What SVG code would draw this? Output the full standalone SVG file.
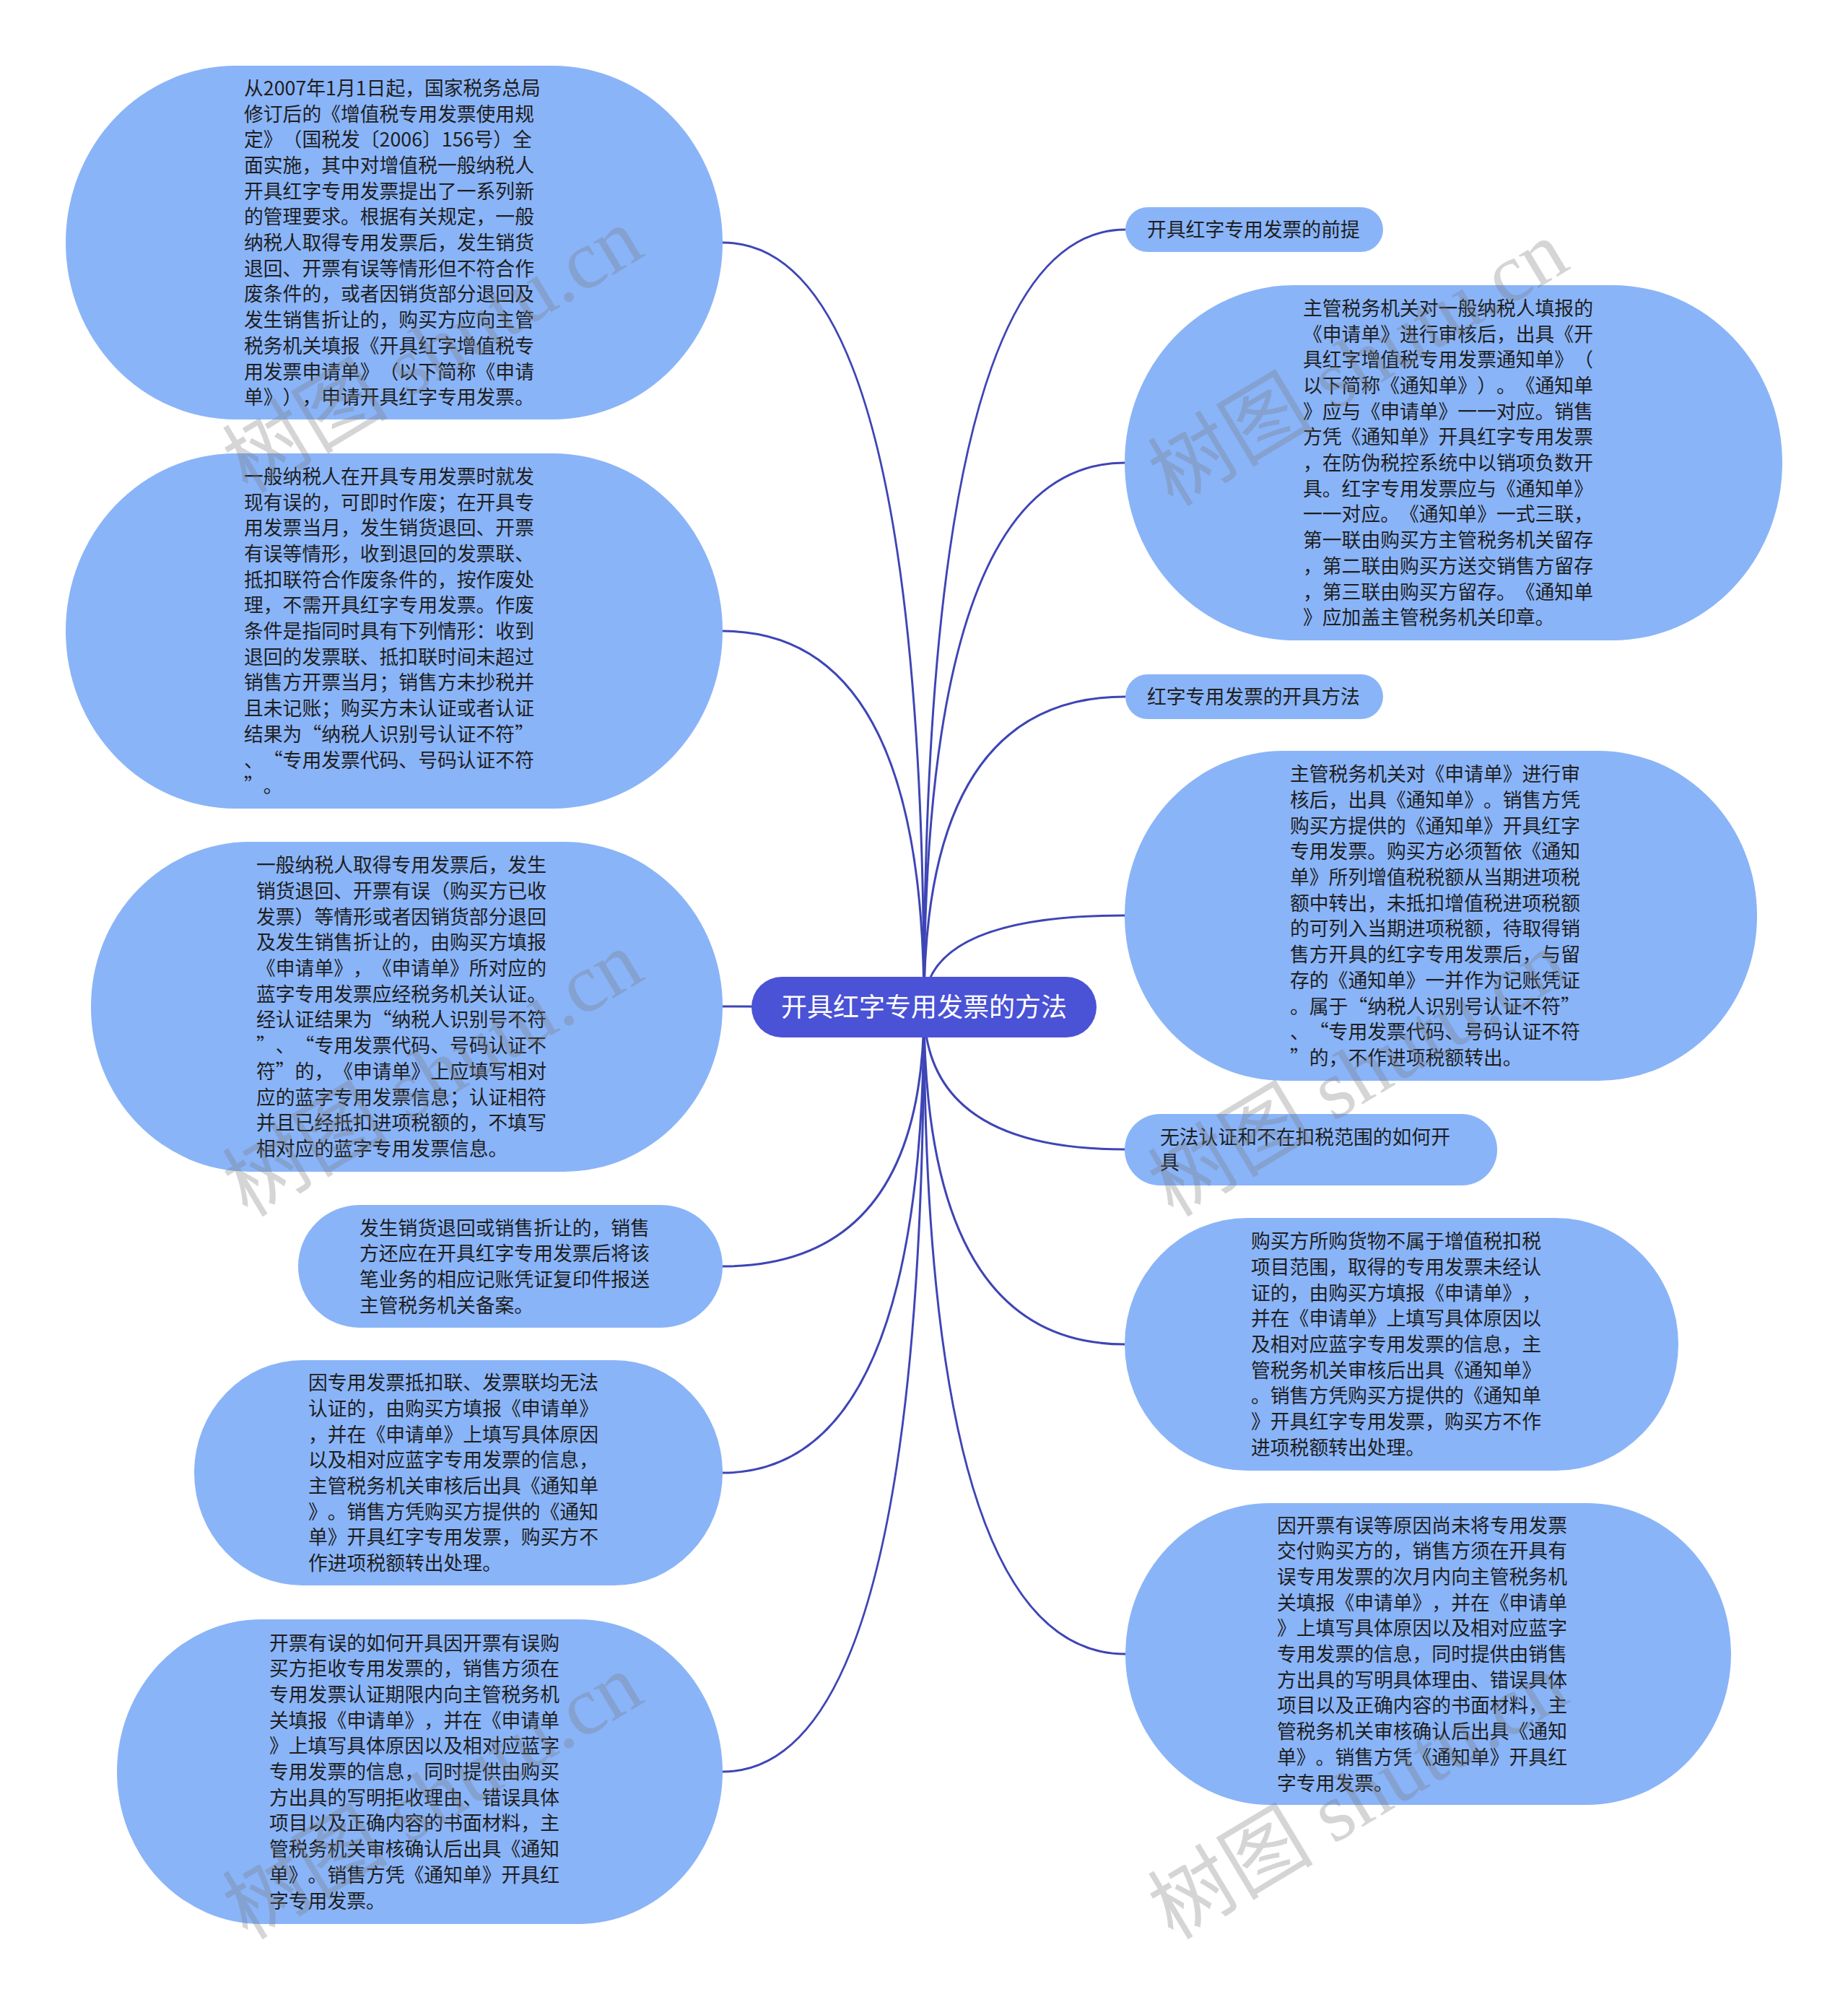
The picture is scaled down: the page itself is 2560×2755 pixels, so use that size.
<svg xmlns="http://www.w3.org/2000/svg" width="2560" height="2755" viewBox="0 0 2560 2755">
<style>
.bg{fill:#ffffff}
.node rect{fill:#8AB4F8}
.t{font-family:"Noto Sans CJK SC","Noto Sans",sans-serif;font-size:26.8px;fill:#1e1e1e;text-spacing-trim:space-all;font-kerning:none}
.root rect{fill:#4A52D6}
.rt{font-family:"Noto Sans CJK SC","Noto Sans",sans-serif;font-size:36px;fill:#ffffff;text-anchor:middle;text-spacing-trim:space-all}
.conn path{fill:none;stroke:#3E45B5;stroke-width:3}
.wm{font-family:"Liberation Serif","Noto Sans CJK SC",serif;font-size:115px;fill:#777777;opacity:0.3}
</style>
<rect class="bg" x="0" y="0" width="2560" height="2755"/>
<g id="connectors" class="conn">
<path d="M1280 1395 Q1280 336 1001 336"/>
<path d="M1280 1395 Q1280 874 1001 874"/>
<path d="M1280 1395 L1001 1394"/>
<path d="M1280 1395 Q1280 1754 1001 1754"/>
<path d="M1280 1395 Q1280 2040 1001 2040"/>
<path d="M1280 1395 Q1280 2454 1001 2454"/>
<path d="M1280 1395 Q1280 318 1559 318"/>
<path d="M1280 1395 Q1280 641 1558 641"/>
<path d="M1280 1395 Q1280 965 1559 965"/>
<path d="M1280 1395 Q1280 1268 1558 1268"/>
<path d="M1280 1395 Q1280 1592 1558 1592"/>
<path d="M1280 1395 Q1280 1862 1558 1862"/>
<path d="M1280 1395 Q1280 2291 1559 2291"/>
</g>
<g id="root" class="root">
<rect x="1041" y="1353" width="478" height="84" rx="42" ry="42"/>
<text class="rt" x="1280" y="1408">开具红字专用发票的方法</text>
</g>
<g id="L1" class="node">
<rect x="91" y="91" width="910" height="490" rx="235" ry="245"/>
<text class="t"><tspan x="338" y="131.8">从2007年1月1日起，国家税务总局</tspan><tspan x="338" dy="35.7">修订后的《增值税专用发票使用规</tspan><tspan x="338" dy="35.7">定》（国税发〔2006〕156号）全</tspan><tspan x="338" dy="35.7">面实施，其中对增值税一般纳税人</tspan><tspan x="338" dy="35.7">开具红字专用发票提出了一系列新</tspan><tspan x="338" dy="35.7">的管理要求。根据有关规定，一般</tspan><tspan x="338" dy="35.7">纳税人取得专用发票后，发生销货</tspan><tspan x="338" dy="35.7">退回、开票有误等情形但不符合作</tspan><tspan x="338" dy="35.7">废条件的，或者因销货部分退回及</tspan><tspan x="338" dy="35.7">发生销售折让的，购买方应向主管</tspan><tspan x="338" dy="35.7">税务机关填报《开具红字增值税专</tspan><tspan x="338" dy="35.7">用发票申请单》（以下简称《申请</tspan><tspan x="338" dy="35.7">单》），申请开具红字专用发票。</tspan></text>
</g>
<g id="L2" class="node">
<rect x="91" y="628" width="910" height="492" rx="235" ry="246"/>
<text class="t"><tspan x="338" y="669.8">一般纳税人在开具专用发票时就发</tspan><tspan x="338" dy="35.7">现有误的，可即时作废；在开具专</tspan><tspan x="338" dy="35.7">用发票当月，发生销货退回、开票</tspan><tspan x="338" dy="35.7">有误等情形，收到退回的发票联、</tspan><tspan x="338" dy="35.7">抵扣联符合作废条件的，按作废处</tspan><tspan x="338" dy="35.7">理，不需开具红字专用发票。作废</tspan><tspan x="338" dy="35.7">条件是指同时具有下列情形：收到</tspan><tspan x="338" dy="35.7">退回的发票联、抵扣联时间未超过</tspan><tspan x="338" dy="35.7">销售方开票当月；销售方未抄税并</tspan><tspan x="338" dy="35.7">且未记账；购买方未认证或者认证</tspan><tspan x="338" dy="35.7">结果为“纳税人识别号认证不符”</tspan><tspan x="338" dy="35.7">、“专用发票代码、号码认证不符</tspan><tspan x="338" dy="35.7">”。</tspan></text>
</g>
<g id="L3" class="node">
<rect x="126" y="1166" width="875" height="457" rx="220" ry="228"/>
<text class="t"><tspan x="355" y="1208.2">一般纳税人取得专用发票后，发生</tspan><tspan x="355" dy="35.7">销货退回、开票有误（购买方已收</tspan><tspan x="355" dy="35.7">发票）等情形或者因销货部分退回</tspan><tspan x="355" dy="35.7">及发生销售折让的，由购买方填报</tspan><tspan x="355" dy="35.7">《申请单》，《申请单》所对应的</tspan><tspan x="355" dy="35.7">蓝字专用发票应经税务机关认证。</tspan><tspan x="355" dy="35.7">经认证结果为“纳税人识别号不符</tspan><tspan x="355" dy="35.7">”、“专用发票代码、号码认证不</tspan><tspan x="355" dy="35.7">符”的，《申请单》上应填写相对</tspan><tspan x="355" dy="35.7">应的蓝字专用发票信息；认证相符</tspan><tspan x="355" dy="35.7">并且已经抵扣进项税额的，不填写</tspan><tspan x="355" dy="35.7">相对应的蓝字专用发票信息。</tspan></text>
</g>
<g id="L4" class="node">
<rect x="413" y="1669" width="588" height="170" rx="85" ry="85"/>
<text class="t"><tspan x="498" y="1710.5">发生销货退回或销售折让的，销售</tspan><tspan x="498" dy="35.7">方还应在开具红字专用发票后将该</tspan><tspan x="498" dy="35.7">笔业务的相应记账凭证复印件报送</tspan><tspan x="498" dy="35.7">主管税务机关备案。</tspan></text>
</g>
<g id="L5" class="node">
<rect x="269" y="1884" width="732" height="312" rx="150" ry="156"/>
<text class="t"><tspan x="427" y="1925.1">因专用发票抵扣联、发票联均无法</tspan><tspan x="427" dy="35.7">认证的，由购买方填报《申请单》</tspan><tspan x="427" dy="35.7">，并在《申请单》上填写具体原因</tspan><tspan x="427" dy="35.7">以及相对应蓝字专用发票的信息，</tspan><tspan x="427" dy="35.7">主管税务机关审核后出具《通知单</tspan><tspan x="427" dy="35.7">》。销售方凭购买方提供的《通知</tspan><tspan x="427" dy="35.7">单》开具红字专用发票，购买方不</tspan><tspan x="427" dy="35.7">作进项税额转出处理。</tspan></text>
</g>
<g id="L6" class="node">
<rect x="162" y="2243" width="839" height="422" rx="200" ry="211"/>
<text class="t"><tspan x="373" y="2285.5">开票有误的如何开具因开票有误购</tspan><tspan x="373" dy="35.7">买方拒收专用发票的，销售方须在</tspan><tspan x="373" dy="35.7">专用发票认证期限内向主管税务机</tspan><tspan x="373" dy="35.7">关填报《申请单》，并在《申请单</tspan><tspan x="373" dy="35.7">》上填写具体原因以及相对应蓝字</tspan><tspan x="373" dy="35.7">专用发票的信息，同时提供由购买</tspan><tspan x="373" dy="35.7">方出具的写明拒收理由、错误具体</tspan><tspan x="373" dy="35.7">项目以及正确内容的书面材料，主</tspan><tspan x="373" dy="35.7">管税务机关审核确认后出具《通知</tspan><tspan x="373" dy="35.7">单》。销售方凭《通知单》开具红</tspan><tspan x="373" dy="35.7">字专用发票。</tspan></text>
</g>
<g id="R1" class="node">
<rect x="1559" y="287" width="357" height="62" rx="31" ry="31"/>
<text class="t" x="1589" y="328">开具红字专用发票的前提</text>
</g>
<g id="R2" class="node">
<rect x="1558" y="395" width="911" height="492" rx="235" ry="246"/>
<text class="t"><tspan x="1805" y="436.8">主管税务机关对一般纳税人填报的</tspan><tspan x="1805" dy="35.7">《申请单》进行审核后，出具《开</tspan><tspan x="1805" dy="35.7">具红字增值税专用发票通知单》（</tspan><tspan x="1805" dy="35.7">以下简称《通知单》）。《通知单</tspan><tspan x="1805" dy="35.7">》应与《申请单》一一对应。销售</tspan><tspan x="1805" dy="35.7">方凭《通知单》开具红字专用发票</tspan><tspan x="1805" dy="35.7">，在防伪税控系统中以销项负数开</tspan><tspan x="1805" dy="35.7">具。红字专用发票应与《通知单》</tspan><tspan x="1805" dy="35.7">一一对应。《通知单》一式三联，</tspan><tspan x="1805" dy="35.7">第一联由购买方主管税务机关留存</tspan><tspan x="1805" dy="35.7">，第二联由购买方送交销售方留存</tspan><tspan x="1805" dy="35.7">，第三联由购买方留存。《通知单</tspan><tspan x="1805" dy="35.7">》应加盖主管税务机关印章。</tspan></text>
</g>
<g id="R3" class="node">
<rect x="1559" y="934" width="357" height="62" rx="31" ry="31"/>
<text class="t" x="1589" y="975">红字专用发票的开具方法</text>
</g>
<g id="R4" class="node">
<rect x="1558" y="1040" width="876" height="457" rx="220" ry="228"/>
<text class="t"><tspan x="1787" y="1082.2">主管税务机关对《申请单》进行审</tspan><tspan x="1787" dy="35.7">核后，出具《通知单》。销售方凭</tspan><tspan x="1787" dy="35.7">购买方提供的《通知单》开具红字</tspan><tspan x="1787" dy="35.7">专用发票。购买方必须暂依《通知</tspan><tspan x="1787" dy="35.7">单》所列增值税税额从当期进项税</tspan><tspan x="1787" dy="35.7">额中转出，未抵扣增值税进项税额</tspan><tspan x="1787" dy="35.7">的可列入当期进项税额，待取得销</tspan><tspan x="1787" dy="35.7">售方开具的红字专用发票后，与留</tspan><tspan x="1787" dy="35.7">存的《通知单》一并作为记账凭证</tspan><tspan x="1787" dy="35.7">。属于“纳税人识别号认证不符”</tspan><tspan x="1787" dy="35.7">、“专用发票代码、号码认证不符</tspan><tspan x="1787" dy="35.7">”的，不作进项税额转出。</tspan></text>
</g>
<g id="R5" class="node">
<rect x="1558" y="1543" width="516" height="99" rx="49" ry="49"/>
<text class="t"><tspan x="1607" y="1584.7">无法认证和不在扣税范围的如何开</tspan><tspan x="1607" dy="35.7">具</tspan></text>
</g>
<g id="R6" class="node">
<rect x="1558" y="1687" width="767" height="350" rx="170" ry="175"/>
<text class="t"><tspan x="1733" y="1729.2">购买方所购货物不属于增值税扣税</tspan><tspan x="1733" dy="35.7">项目范围，取得的专用发票未经认</tspan><tspan x="1733" dy="35.7">证的，由购买方填报《申请单》，</tspan><tspan x="1733" dy="35.7">并在《申请单》上填写具体原因以</tspan><tspan x="1733" dy="35.7">及相对应蓝字专用发票的信息，主</tspan><tspan x="1733" dy="35.7">管税务机关审核后出具《通知单》</tspan><tspan x="1733" dy="35.7">。销售方凭购买方提供的《通知单</tspan><tspan x="1733" dy="35.7">》开具红字专用发票，购买方不作</tspan><tspan x="1733" dy="35.7">进项税额转出处理。</tspan></text>
</g>
<g id="R7" class="node">
<rect x="1559" y="2082" width="839" height="418" rx="200" ry="209"/>
<text class="t"><tspan x="1769" y="2122.5">因开票有误等原因尚未将专用发票</tspan><tspan x="1769" dy="35.7">交付购买方的，销售方须在开具有</tspan><tspan x="1769" dy="35.7">误专用发票的次月内向主管税务机</tspan><tspan x="1769" dy="35.7">关填报《申请单》，并在《申请单</tspan><tspan x="1769" dy="35.7">》上填写具体原因以及相对应蓝字</tspan><tspan x="1769" dy="35.7">专用发票的信息，同时提供由销售</tspan><tspan x="1769" dy="35.7">方出具的写明具体理由、错误具体</tspan><tspan x="1769" dy="35.7">项目以及正确内容的书面材料，主</tspan><tspan x="1769" dy="35.7">管税务机关审核确认后出具《通知</tspan><tspan x="1769" dy="35.7">单》。销售方凭《通知单》开具红</tspan><tspan x="1769" dy="35.7">字专用发票。</tspan></text>
</g>
<g id="watermarks">
<text class="wm" transform="translate(343 685) rotate(-31)">树图 shutu.cn</text>
<text class="wm" transform="translate(1625 703) rotate(-31)">树图 shutu.cn</text>
<text class="wm" transform="translate(343 1687) rotate(-31)">树图 shutu.cn</text>
<text class="wm" transform="translate(1625 1687) rotate(-31)">树图 shutu.cn</text>
<text class="wm" transform="translate(343 2688) rotate(-31)">树图 shutu.cn</text>
<text class="wm" transform="translate(1625 2688) rotate(-31)">树图 shutu.cn</text>
</g>
</svg>
